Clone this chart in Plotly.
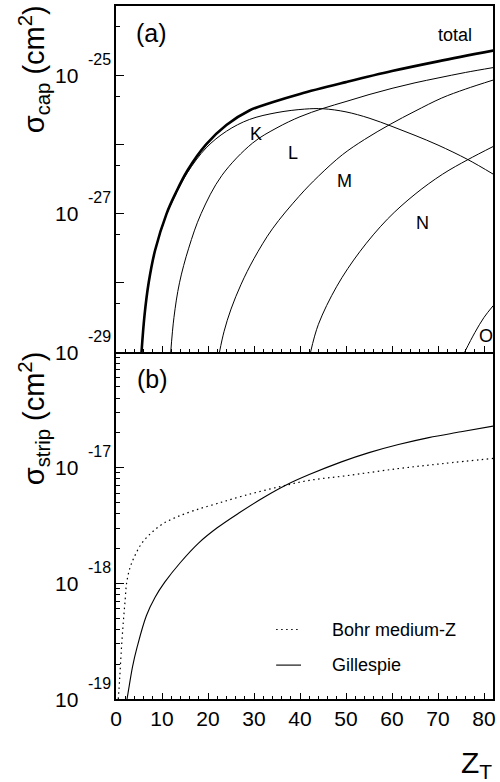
import plotly.graph_objects as go

# ---------------- data (log10 of cross sections) ----------------
# panel (a): capture cross sections, sigma_cap (cm^2)
total_z = [5.55, 6.2, 7.1, 8.5, 11, 13, 15.5, 19.6, 24, 29, 34, 40, 50, 60, 70, 82]
total_log = [-29.0, -28.47, -28.0, -27.53, -27.0, -26.70, -26.38, -26.0, -25.72, -25.51,
             -25.39, -25.27, -25.10, -24.94, -24.80, -24.645]

k_z = [5.55, 6.2, 7.1, 8.5, 11, 13, 15.5, 19.6, 24, 29, 35, 41, 45, 50, 55, 60, 65, 70,
       76.5, 82]
k_log = [-29.0, -28.47, -28.0, -27.53, -27.01, -26.72, -26.41, -26.05, -25.81, -25.64,
         -25.54, -25.49, -25.485, -25.53, -25.62, -25.74, -25.87, -26.01, -26.22, -26.43]

l_z = [11.9, 12.6, 13.8, 15.8, 18.5, 23, 29.7, 35, 40, 45, 50, 55, 60, 65, 70, 76, 82]
l_log = [-29.0, -28.5, -28.0, -27.5, -27.0, -26.45, -25.98, -25.76, -25.60, -25.48,
         -25.38, -25.28, -25.19, -25.11, -25.04, -24.96, -24.89]

m_z = [22.5, 23.5, 25, 27.2, 30, 34, 39.8, 44, 49.2, 54, 59.6, 65, 70.8, 76, 82]
m_log = [-29.0, -28.7, -28.38, -28.02, -27.65, -27.22, -26.75, -26.46, -26.15, -25.93,
         -25.71, -25.52, -25.33, -25.2, -25.07]

n_z = [42.3, 44, 48, 53, 59, 65, 71, 76.5, 82]
n_log = [-29.0, -28.6, -28.05, -27.55, -27.08, -26.72, -26.43, -26.22, -26.03]

o_z = [75.8, 78, 80, 82]
o_log = [-29.0, -28.72, -28.5, -28.33]

# panel (b): stripping cross sections, sigma_strip (cm^2)
bohr_z = [0.5, 0.8, 1.2, 1.6, 2.0, 2.3, 3.0, 4.0, 5.5, 7.5, 10, 13, 17, 22, 28, 35, 42,
          50, 61, 71, 82]
bohr_log = [-19.0, -18.82, -18.55, -18.33, -18.14, -18.0, -17.87, -17.77, -17.66, -17.57,
            -17.49, -17.43, -17.37, -17.31, -17.24, -17.17, -17.11, -17.07, -17.01,
            -16.965, -16.92]

gill_z = [2.4, 2.9, 3.6, 4.6, 6.6, 8.5, 10.6, 14, 18, 22, 26.8, 32, 37, 42, 49, 55, 61.4,
          68, 75, 82]
gill_log = [-19.0, -18.88, -18.72, -18.55, -18.28, -18.12, -17.99, -17.82, -17.65, -17.52,
            -17.39, -17.26, -17.15, -17.06, -16.95, -16.87, -16.80, -16.74, -16.69, -16.64]

# curve labels in panel (a): (text, Z, log10 sigma)
cap_labels = [("total", 73.7, -24.42), ("K", 30.5, -25.85), ("L", 38.4, -26.13),
              ("M", 49.6, -26.53), ("N", 66.6, -27.14), ("O", 80.4, -28.77)]

# axis ticks
x_major = [0, 10, 20, 30, 40, 50, 60, 70, 80]
x_minor = [v for v in range(2, 82, 2) if v % 10 != 0]
cap_major_exp = [-29, -28, -27, -26, -25, -24]
cap_label_exp = [-25, -27, -29]
strip_major_exp = [-19, -18, -17, -16]
strip_label_exp = [-17, -18, -19]

FONT = "Liberation Sans, Arial, Helvetica, sans-serif"
BLACK = "black"


def tolin(logs):
    return [10 ** v for v in logs]


fig = go.Figure()

SM = 1.0
# panel (a) curves
fig.add_trace(go.Scatter(x=total_z, y=tolin(total_log), mode="lines", xaxis="x2", yaxis="y2",
                         line=dict(color=BLACK, width=2.6, shape="spline", smoothing=SM),
                         showlegend=False))
for zz, ll in [(k_z, k_log), (l_z, l_log), (m_z, m_log), (n_z, n_log), (o_z, o_log)]:
    fig.add_trace(go.Scatter(x=zz, y=tolin(ll), mode="lines", xaxis="x2", yaxis="y2",
                             line=dict(color=BLACK, width=1, shape="spline", smoothing=SM),
                             showlegend=False))

# panel (b) curves
fig.add_trace(go.Scatter(x=bohr_z, y=tolin(bohr_log), mode="lines", xaxis="x", yaxis="y",
                         line=dict(color=BLACK, width=1.2, shape="spline", smoothing=SM,
                                   dash="1.5px,3.5px"),
                         showlegend=False))
fig.add_trace(go.Scatter(x=gill_z, y=tolin(gill_log), mode="lines", xaxis="x", yaxis="y",
                         line=dict(color=BLACK, width=1.1, shape="spline", smoothing=SM),
                         showlegend=False))

split = 348 / 695.0

axis_common = dict(showline=True, linecolor=BLACK, linewidth=1.5, mirror=True,
                   showgrid=False, zeroline=False, ticks="inside", tickcolor=BLACK)

xaxis_kw = dict(axis_common, range=[0, 81.95], tickmode="array", tickvals=x_major,
                ticklen=6, tickwidth=1,
                minor=dict(tickmode="array", tickvals=x_minor, ticks="inside", ticklen=3,
                           tickwidth=1, tickcolor=BLACK))

fig.update_layout(
    width=500, height=782,
    margin=dict(l=116, r=5, t=4, b=83),
    paper_bgcolor="white", plot_bgcolor="white",
    font=dict(family=FONT, color=BLACK),
    xaxis=dict(xaxis_kw, domain=[0, 1], anchor="y", showticklabels=True, mirror=False,
               tickfont=dict(size=21, family=FONT, color=BLACK)),
    xaxis2=dict(xaxis_kw, domain=[0, 1], anchor="y2", matches="x", showticklabels=False),
    yaxis=dict(axis_common, type="log", domain=[0, split], anchor="x",
               range=[-19, -16], tickmode="array",
               tickvals=[10.0 ** e for e in strip_major_exp], ticklen=8, tickwidth=1,
               showticklabels=False,
               minor=dict(tickmode="array", ticks="inside", ticklen=4, tickwidth=1,
                          tickcolor=BLACK,
                          tickvals=[m * 10.0 ** e for e in strip_major_exp[:-1]
                                    for m in range(2, 10)])),
    yaxis2=dict(axis_common, type="log", domain=[split, 1], anchor="x2",
                range=[-29, -24], tickmode="array",
                tickvals=[10.0 ** e for e in cap_major_exp], ticklen=8, tickwidth=1,
                showticklabels=False,
                minor=dict(tickmode="array", ticks="inside", ticklen=4, tickwidth=1,
                           tickcolor=BLACK,
                           tickvals=[5 * 10.0 ** e for e in cap_major_exp[:-1]])),
)

ann = []
# y tick labels as 10 with raised exponent
for yref, exps in (("y2", cap_label_exp), ("y", strip_label_exp)):
    for e in exps:
        ann.append(dict(xref="paper", yref=yref, x=0, y=e, xshift=-36, text="10",
                        showarrow=False, xanchor="right", yanchor="middle",
                        font=dict(size=21, family=FONT, color=BLACK)))
        ann.append(dict(xref="paper", yref=yref, x=0, y=e, xshift=-30, yshift=16,
                        text="-%d" % abs(e), showarrow=False, xanchor="left",
                        yanchor="middle", font=dict(size=16, family=FONT, color=BLACK)))

# curve labels
for txt, zx, ly in cap_labels:
    ann.append(dict(xref="x2", yref="y2", x=zx, y=ly, text=txt, showarrow=False,
                    xanchor="center", yanchor="middle",
                    font=dict(size=18, family=FONT, color=BLACK)))

# panel tags
ann.append(dict(xref="x2", yref="y2", x=7.8, y=-24.45, yshift=4, text="(a)", showarrow=False,
                xanchor="center", yanchor="middle", font=dict(size=25, family=FONT, color=BLACK)))
ann.append(dict(xref="x", yref="y", x=8.0, y=-16.25, yshift=2, text="(b)", showarrow=False,
                xanchor="center", yanchor="middle", font=dict(size=25, family=FONT, color=BLACK)))

# axis titles
ann.append(dict(xref="paper", yref="paper", x=(33 - 116) / 379.0, y=(699 - 67) / 695.0,
                text="σ<sub>cap</sub> (cm<sup>2</sup>)", textangle=-90, showarrow=False,
                xanchor="center", yanchor="middle", font=dict(size=29, family=FONT, color=BLACK)))
ann.append(dict(xref="paper", yref="paper", x=(33 - 116) / 379.0, y=(699 - 417) / 695.0,
                text="σ<sub>strip</sub> (cm<sup>2</sup>)", textangle=-90, showarrow=False,
                xanchor="center", yanchor="middle", font=dict(size=29, family=FONT, color=BLACK)))
ann.append(dict(xref="paper", yref="paper", x=(496 - 116) / 379.0, y=(699 - 765) / 695.0,
                text="Z<sub>T</sub>", showarrow=False, xanchor="right", yanchor="middle",
                font=dict(size=30, family=FONT, color=BLACK)))

# legend (panel b)
leg_items = [("Bohr medium-Z", "1.5px,3.5px", 629.3), ("Gillespie", "solid", 665.0)]
shapes = []
for txt, dash, py in leg_items:
    yp = (699 - py) / 695.0
    shapes.append(dict(type="line", xref="paper", yref="paper",
                       x0=(277 - 116) / 379.0, x1=(302 - 116) / 379.0, y0=yp, y1=yp,
                       line=dict(color=BLACK, width=1.1, dash=dash)))
    ann.append(dict(xref="paper", yref="paper", x=(331 - 116) / 379.0, y=yp, text=txt,
                    showarrow=False, xanchor="left", yanchor="middle",
                    font=dict(size=18, family=FONT, color=BLACK)))

fig.update_layout(annotations=ann, shapes=shapes)

fig.write_html("out.html", config={"displayModeBar": False},
               post_script="document.body.style.margin='0px';"
                           "document.body.style.padding='0px';")
